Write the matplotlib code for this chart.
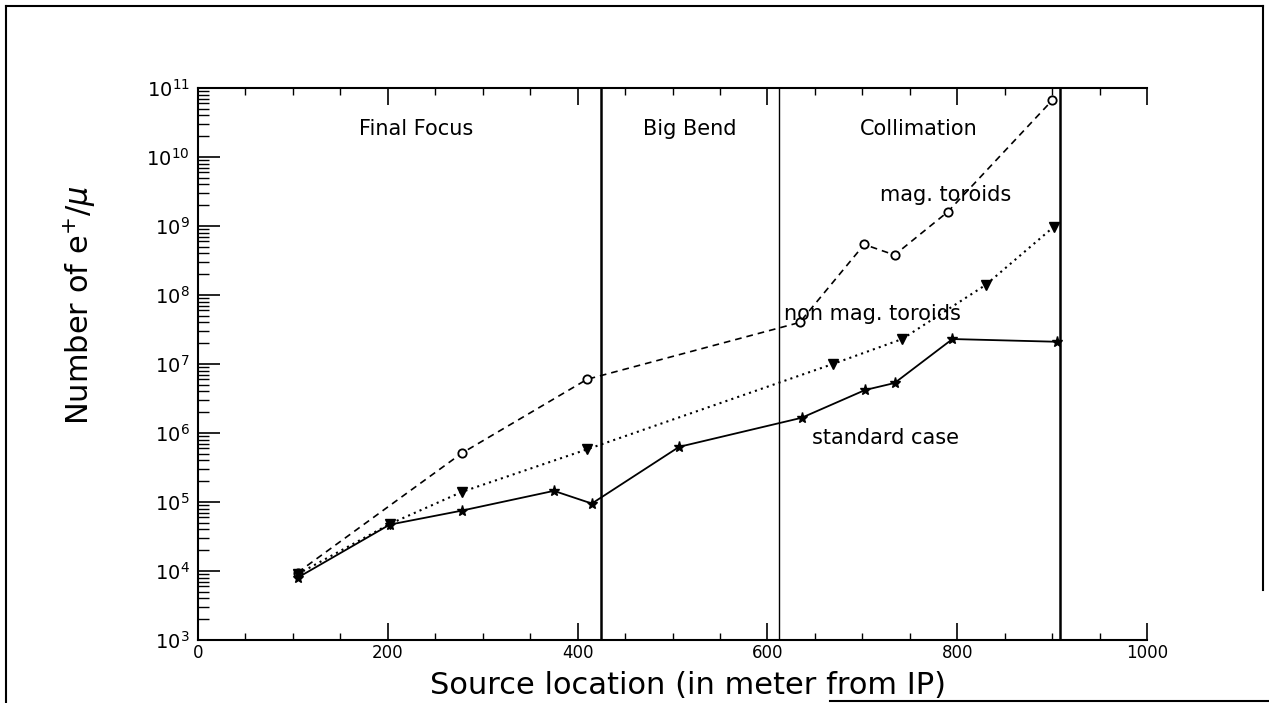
import matplotlib
matplotlib.use("Agg")
import matplotlib.pyplot as plt
from matplotlib.ticker import FixedLocator, LogLocator, NullFormatter, MultipleLocator
from matplotlib.lines import Line2D

# standard case (stars, solid)
std_x = [105, 202, 278, 375, 415, 507, 636, 703, 734, 795, 905]
std_y = [8.0e3, 4.7e4, 7.5e4, 1.45e5, 9.5e4, 6.3e5, 1.66e6, 4.2e6, 5.3e6, 2.3e7, 2.1e7]
# non magnetized toroids (triangles, dotted)
nonmag_x = [105, 202, 278, 410, 669, 742, 830, 902]
nonmag_y = [9.0e3, 4.8e4, 1.4e5, 5.8e5, 1.0e7, 2.3e7, 1.4e8, 9.8e8]
# magnetized toroids (circles, dashed)
mag_x = [105, 278, 410, 634, 702, 734, 790, 900]
mag_y = [9.5e3, 5.1e5, 6.0e6, 4.0e7, 5.4e8, 3.8e8, 1.6e9, 6.6e10]

boundaries = [425, 612, 908]
boundary_lw = [1.8, 1.0, 1.8]
regions = ["Final Focus", "Big Bend", "Collimation"]
region_x = [230, 518, 760]

fig = plt.figure(figsize=(12.69, 7.03), dpi=100)
ax = fig.add_axes([198 / 1269, 1 - 640 / 703, (1147 - 198) / 1269, (640 - 88) / 703])

ax.plot(mag_x, mag_y, ls=(0, (4, 3)), color="k", lw=1.2, marker="o", ms=6,
        mfc="white", mec="k", mew=1.3)
ax.plot(nonmag_x, nonmag_y, ls=(0, (1, 2)), color="k", lw=1.5, marker="v", ms=7,
        mfc="k", mec="k")
ax.plot(std_x, std_y, ls="-", color="k", lw=1.3, marker="*", ms=8, mfc="k", mec="k")

for b, lw in zip(boundaries, boundary_lw):
    ax.axvline(b, color="k", lw=lw)

for name, xr in zip(regions, region_x):
    ax.text(xr, 10 ** 10.4, name, ha="center", va="center", fontsize=15)

ax.text(857, 10 ** 9.45, "mag. toroids", ha="right", va="center", fontsize=15)
ax.text(617, 10 ** 7.72, "non mag. toroids", ha="left", va="center", fontsize=15)
ax.text(647, 10 ** 5.93, "standard case", ha="left", va="center", fontsize=15)

ax.set_yscale("log")
ax.set_xlim(0, 1000)
ax.set_ylim(1e3, 1e11)

ax.xaxis.set_major_locator(MultipleLocator(200))
ax.xaxis.set_minor_locator(MultipleLocator(50))
ax.yaxis.set_minor_locator(LogLocator(base=10, subs=range(2, 10), numticks=20))
ax.yaxis.set_minor_formatter(NullFormatter())
ytick_vals = [10.0 ** e for e in range(3, 12)]
ax.yaxis.set_major_locator(FixedLocator(ytick_vals))
ax.set_yticklabels([f"$10^{{{e}}}$" for e in range(3, 12)], fontsize=14)
ax.set_xticklabels([f"{int(v)}" for v in ax.get_xticks()], fontsize=12)

ax.tick_params(axis="x", which="major", direction="in", length=12, width=1.2,
               top=True, bottom=True, pad=3)
ax.tick_params(axis="x", which="minor", direction="in", length=5, width=1,
               top=True, bottom=True)
ax.tick_params(axis="y", which="major", direction="in", length=16, width=1.2,
               left=True, right=False, pad=6)
ax.tick_params(axis="y", which="minor", direction="in", length=8, width=1,
               left=True, right=False)
for s in ax.spines.values():
    s.set_linewidth(1.5)
ax.spines["right"].set_visible(False)

fig.text(688 / 1269, 1 - 686 / 703, "Source location (in meter from IP)",
         ha="center", va="center", fontsize=22)
fig.text(80 / 1269, 1 - 305 / 703, r"Number of e$^{+}$/$\mu$", rotation=90,
         ha="center", va="center", fontsize=22)

# scanned-page frame
frame = dict(color="k", lw=1.5, transform=fig.transFigure)
fig.add_artist(Line2D([6 / 1269, 6 / 1269], [0, 1 - 6 / 703], **frame))
fig.add_artist(Line2D([6 / 1269, 1263 / 1269], [1 - 6 / 703, 1 - 6 / 703], **frame))
fig.add_artist(Line2D([1263 / 1269, 1263 / 1269], [1 - 6 / 703, 1 - 590 / 703], **frame))
fig.add_artist(Line2D([830 / 1269, 1269 / 1269], [1 - 701 / 703, 1 - 701 / 703], **frame))

fig.savefig("out.png", dpi=100)
